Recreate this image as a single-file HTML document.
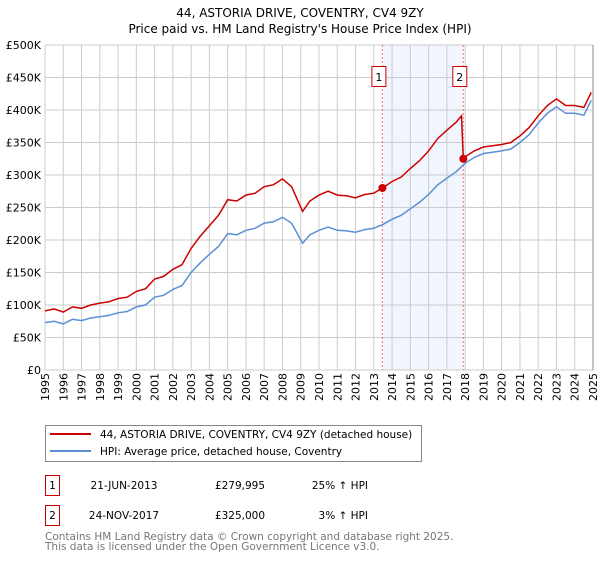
<!DOCTYPE html>
<html><head><meta charset="utf-8"><style>
body{margin:0;background:#fff;font-family:"DejaVu Sans","Liberation Sans",sans-serif;}
svg text{font-family:"DejaVu Sans","Liberation Sans",sans-serif;}
</style></head><body>
<svg id="chart" width="600" height="560" xmlns="http://www.w3.org/2000/svg">
<text x="300" y="17" text-anchor="middle" font-size="12">44, ASTORIA DRIVE, COVENTRY, CV4 9ZY</text>
<text x="300" y="33" text-anchor="middle" font-size="12">Price paid vs. HM Land Registry's House Price Index (HPI)</text>
<g id="plot"></g>
<g>
<rect x="45.5" y="425.5" width="376" height="36" fill="#fff" stroke="#888"/>
<line x1="50" y1="434" x2="91" y2="434" stroke="#cc0000" stroke-width="2"/>
<text x="100" y="438" font-size="10.5">44, ASTORIA DRIVE, COVENTRY, CV4 9ZY (detached house)</text>
<line x1="50" y1="451" x2="91" y2="451" stroke="#5b8fd4" stroke-width="2"/>
<text x="100" y="455" font-size="10.5">HPI: Average price, detached house, Coventry</text>
</g>
<g font-size="10.5">
<rect x="45.5" y="475.5" width="14" height="20" fill="#fff" stroke="#cc0000"/>
<text x="52.5" y="489" text-anchor="middle">1</text>
<text x="124" y="489" text-anchor="middle">21-JUN-2013</text>
<text x="240" y="489" text-anchor="middle">£279,995</text>
<text x="368" y="489" text-anchor="end">25% ↑ HPI</text>
</g>
<g font-size="10.5">
<rect x="45.5" y="505.5" width="14" height="20" fill="#fff" stroke="#cc0000"/>
<text x="52.5" y="519" text-anchor="middle">2</text>
<text x="124" y="519" text-anchor="middle">24-NOV-2017</text>
<text x="240" y="519" text-anchor="middle">£325,000</text>
<text x="368" y="519" text-anchor="end">3% ↑ HPI</text>
</g>
<text x="45" y="540" font-size="10.5" fill="#777">Contains HM Land Registry data © Crown copyright and database right 2025.</text>
<text x="45" y="550" font-size="10.5" fill="#777">This data is licensed under the Open Government Licence v3.0.</text>
</svg>
<script>
const hpiYears=[1995,1995.5,1996,1996.5,1997,1997.5,1998,1998.5,1999,1999.5,2000,2000.5,2001,2001.5,2002,2002.5,2003,2003.5,2004,2004.5,2005,2005.5,2006,2006.5,2007,2007.5,2008,2008.5,2009.1,2009.5,2010,2010.5,2011,2011.5,2012,2012.5,2013,2013.5,2014,2014.5,2015,2015.5,2016,2016.5,2017,2017.5,2018,2018.5,2019,2019.5,2020,2020.5,2021,2021.5,2022,2022.5,2023,2023.5,2024,2024.5,2024.9];
const hpiValues=[73,75,71,78,76,80,82,84,88,90,97,100,112,115,124,130,150,165,178,190,210,208,215,218,226,228,235,226,195,208,215,220,215,214,212,216,218,224,232,238,248,258,270,285,295,305,318,327,333,335,337,340,350,362,380,395,405,395,395,392,415];
const priceYears=[1995,1995.5,1996,1996.5,1997,1997.5,1998,1998.5,1999,1999.5,2000,2000.5,2001,2001.5,2002,2002.5,2003,2003.5,2004,2004.5,2005,2005.5,2006,2006.5,2007,2007.5,2008,2008.5,2009.1,2009.5,2010,2010.5,2011,2011.5,2012,2012.5,2013,2013.47,2014,2014.5,2015,2015.5,2016,2016.5,2017,2017.5,2017.8,2017.9,2018,2018.5,2019,2019.5,2020,2020.5,2021,2021.5,2022,2022.5,2023,2023.5,2024,2024.5,2024.9];
const priceValues=[91,94,89,97,95,100,103,105,110,112,121,125,140,144,155,162,187,206,222,238,262,260,269,272,282,285,294,282,244,260,269,275,269,268,265,270,272,280,290,297,310,322,337,356,369,381,391,325,328,337,343,345,347,350,360,373,391,407,417,407,407,404,427];
const saleYears=[2013.47,2017.9];
const saleValues=[280,325];
const saleLabels=["1","2"];
const yTicks=[0,50,100,150,200,250,300,350,400,450,500];
const yTickLabels=["£0","£50K","£100K","£150K","£200K","£250K","£300K","£350K","£400K","£450K","£500K"];
const xTicks=[1995,1996,1997,1998,1999,2000,2001,2002,2003,2004,2005,2006,2007,2008,2009,2010,2011,2012,2013,2014,2015,2016,2017,2018,2019,2020,2021,2022,2023,2024,2025];

const X0=45,X1=593,Y0=370,Y1=45;
const xs=y=>X0+(y-1995)/(2025-1995)*(X1-X0);
const ys=v=>Y0-v/500*(Y0-Y1);
const NS="http://www.w3.org/2000/svg";
const plot=document.getElementById('plot');
function mk(t,a){const e=document.createElementNS(NS,t);for(const k in a)e.setAttribute(k,a[k]);plot.appendChild(e);return e;}
const sh=mk('rect',{x:xs(saleYears[0]),y:Y1,width:xs(saleYears[1])-xs(saleYears[0]),height:Y0-Y1,fill:'#eef3fc',opacity:0.8});


yTicks.forEach((t,i)=>{
  const l=mk('line',{x1:X0,x2:X1,y1:ys(t),y2:ys(t),stroke:'#ccc'});
  
  
  const tx=mk('text',{x:X0-4,y:ys(t)+4,'text-anchor':'end','font-size':'11'});
  tx.textContent=yTickLabels[i];
  
  
});
xTicks.forEach(t=>{
  const l=mk('line',{x1:xs(t),x2:xs(t),y1:Y1,y2:Y0,stroke:'#ccc'});
  
  
  const tx=mk('text',{x:0,y:0,'text-anchor':'end','font-size':'11',transform:`translate(${xs(t)+4},${Y0+3}) rotate(-90)`});
  tx.textContent=t;
  
  
});
const ax=mk('line',{x1:X1,x2:X1,y1:Y1,y2:Y0,stroke:'#888'});


saleYears.forEach((y,i)=>{
  const l=mk('line',{x1:xs(y),x2:xs(y),y1:Y1,y2:Y0,stroke:'#f07070','stroke-dasharray':'2,2'});
  
  
  const r=mk('rect',{x:xs(y)-10.5,y:66.5,width:14,height:20,fill:'#fff',stroke:'#cc0000'});
  
  
  const tx=mk('text',{x:xs(y)-3.5,y:81,'text-anchor':'middle','font-size':'11'});
  tx.textContent=saleLabels[i];
  
  
});
function path(xa,va,col,name){
  const d=xa.map((x,i)=>(i?'L':'M')+xs(x).toFixed(1)+','+ys(va[i]).toFixed(1)).join('');
  const p=mk('path',{d:d,fill:'none',stroke:col,'stroke-width':1.5});
  
  
}
path(hpiYears,hpiValues,'#5b8fd4','hpi-line');
path(priceYears,priceValues,'#cc0000','price-line');
saleYears.forEach((y,i)=>{
  const c=mk('circle',{cx:xs(y),cy:ys(saleValues[i]),r:4,fill:'#cc0000'});
  
  
});
</script>
</body></html>
